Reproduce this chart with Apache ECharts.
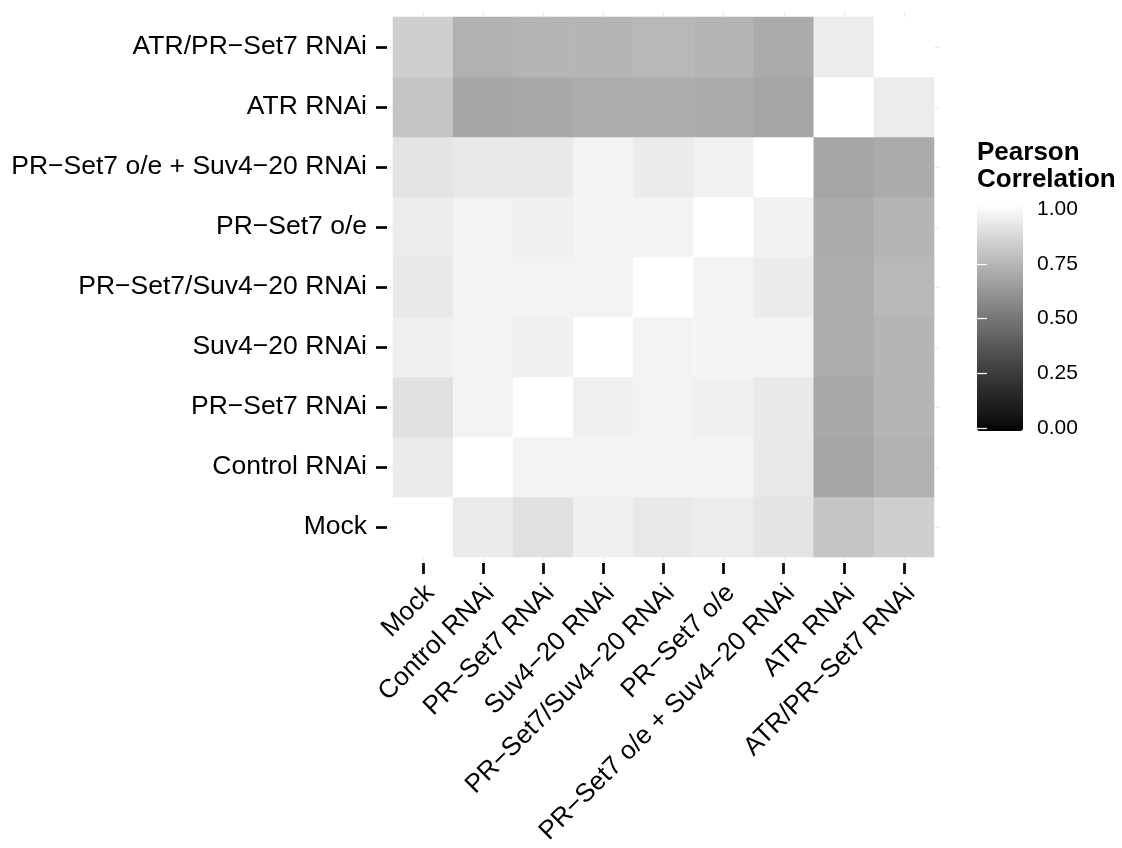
<!DOCTYPE html>
<html>
<head>
<meta charset="utf-8">
<title>Pearson correlation between samples</title>
<script src="https://cdn.jsdelivr.net/npm/echarts@6/dist/echarts.min.js"></script>
<style>
  html, body { margin: 0; padding: 0; background: #ffffff; }
  #chart { width: 1122px; height: 848px; }
</style>
</head>
<body>
<div id="chart"></div>
<script>
// Sample names, bottom-to-top on the y axis and left-to-right on the x axis
const samples = [
  'Mock',
  'Control RNAi',
  'PR\u2212Set7 RNAi',
  'Suv4\u221220 RNAi',
  'PR\u2212Set7/Suv4\u221220 RNAi',
  'PR\u2212Set7 o/e',
  'PR\u2212Set7 o/e + Suv4\u221220 RNAi',
  'ATR RNAi',
  'ATR/PR\u2212Set7 RNAi'
];

// Pearson correlation of each sample (row) against every sample (columns, same order)
const corrMock      = [1.000, 0.930, 0.890, 0.945, 0.920, 0.934, 0.905, 0.790, 0.833];
const corrControl   = [0.930, 1.000, 0.960, 0.960, 0.962, 0.960, 0.920, 0.681, 0.722];
const corrPRSet7    = [0.890, 0.960, 1.000, 0.948, 0.960, 0.948, 0.922, 0.692, 0.737];
const corrSuv420    = [0.945, 0.960, 0.948, 1.000, 0.958, 0.965, 0.958, 0.704, 0.737];
const corrPRSuv     = [0.920, 0.962, 0.960, 0.958, 1.000, 0.958, 0.930, 0.706, 0.748];
const corrOE        = [0.934, 0.960, 0.948, 0.965, 0.958, 1.000, 0.951, 0.698, 0.735];
const corrOESuv     = [0.905, 0.920, 0.922, 0.958, 0.930, 0.951, 1.000, 0.675, 0.700];
const corrATR       = [0.790, 0.681, 0.692, 0.704, 0.706, 0.698, 0.675, 1.000, 0.934];
const corrATRPR     = [0.833, 0.722, 0.737, 0.737, 0.748, 0.735, 0.700, 0.934, 1.000];

const corrRows = [corrMock, corrControl, corrPRSet7, corrSuv420, corrPRSuv,
                  corrOE, corrOESuv, corrATR, corrATRPR];

// Colour bar range and breaks
const scaleMin = 0;
const scaleMax = 1;
const scaleStep = 0.25;

const FONT = '"Liberation Sans", Arial, Helvetica, sans-serif';

// Black-to-white ramp interpolated in CIE Lab (lightness only)
function labGray(L) {
  const fy = (L + 16) / 116;
  const Y = L > 8 ? fy * fy * fy : L / 903.3;
  const s = Y > 0.0031308 ? 1.055 * Math.pow(Y, 1 / 2.4) - 0.055 : 12.92 * Y;
  const g = Math.round(Math.max(0, Math.min(1, s)) * 255);
  return 'rgb(' + g + ',' + g + ',' + g + ')';
}
const ramp = [];
for (let i = 0; i <= 50; i++) ramp.push(labGray(i * 2));

// Heatmap cells: [column index, row index, correlation]
const cells = [];
corrRows.forEach(function (row, yi) {
  row.forEach(function (v, xi) { cells.push([xi, yi, v]); });
});

const gridLine = { show: true, interval: 0, lineStyle: { color: '#ebebeb', width: 1.2 } };
const hiddenParts = {
  axisLine: { show: false }, axisTick: { show: false }, axisLabel: { show: false }
};

const chart = echarts.init(document.getElementById('chart'), null, { renderer: 'canvas' });

chart.setOption({
  animation: false,
  backgroundColor: '#ffffff',
  textStyle: { fontFamily: FONT },
  title: {
    text: 'Pearson\nCorrelation',
    left: 977,
    top: 139,
    padding: 0,
    textStyle: { fontFamily: FONT, fontSize: 26, fontWeight: 'bold', lineHeight: 27, color: '#000000' }
  },
  grid: [
    { left: 393, top: 17, width: 541, height: 540, outerBoundsMode: 'none', containLabel: false },   // tiles
    { left: 423, top: 11, width: 481, height: 552, outerBoundsMode: 'none', containLabel: false },   // vertical panel grid lines
    { left: 387, top: 47, width: 553, height: 480, outerBoundsMode: 'none', containLabel: false },   // horizontal panel grid lines
    { left: 977, top: 209, width: 46, height: 219, outerBoundsMode: 'none', containLabel: false }    // colour bar breaks
  ],
  xAxis: [
    {
      gridIndex: 0, type: 'category', data: samples, offset: 6,
      axisLine: { show: false },
      axisTick: { show: true, alignWithLabel: true, interval: 0, length: 11,
                  lineStyle: { color: '#000000', width: 2.7 } },
      axisLabel: { interval: 0, rotate: 45, align: 'right', verticalAlign: 'top',
                   lineHeight: 20, margin: 19, fontSize: 26, color: '#000000', fontFamily: FONT },
      splitLine: { show: false }
    },
    Object.assign({ gridIndex: 1, type: 'category', data: samples, boundaryGap: false,
                    splitLine: gridLine }, hiddenParts),
    { gridIndex: 2, type: 'value', show: false },
    { gridIndex: 3, type: 'value', show: false }
  ],
  yAxis: [
    {
      gridIndex: 0, type: 'category', data: samples, offset: 6,
      axisLine: { show: false },
      axisTick: { show: true, alignWithLabel: true, interval: 0, length: 11,
                  lineStyle: { color: '#000000', width: 2.7 } },
      axisLabel: { interval: 0, margin: 20, fontSize: 26.5, color: '#000000', fontFamily: FONT },
      splitLine: { show: false }
    },
    { gridIndex: 1, type: 'value', show: false },
    Object.assign({ gridIndex: 2, type: 'category', data: samples, boundaryGap: false,
                    splitLine: gridLine }, hiddenParts),
    {
      gridIndex: 3, type: 'value', position: 'right', z: 10,
      min: scaleMin, max: scaleMax, interval: scaleStep,
      axisLine: { show: false },
      axisTick: { show: true, inside: true, length: 9, lineStyle: { color: '#ffffff', width: 1.2 } },
      axisLabel: { margin: 14, fontSize: 21, color: '#000000', fontFamily: FONT,
                   formatter: function (v) { return v.toFixed(2); } },
      splitLine: { show: false }
    },
    {
      gridIndex: 3, type: 'value', position: 'left', z: 10,
      min: scaleMin, max: scaleMax, interval: scaleStep,
      axisLine: { show: false },
      axisTick: { show: true, inside: true, length: 10, lineStyle: { color: '#ffffff', width: 1.2 } },
      axisLabel: { show: false },
      splitLine: { show: false }
    }
  ],
  visualMap: {
    type: 'continuous',
    seriesIndex: 0,
    min: scaleMin,
    max: scaleMax,
    calculable: false,
    hoverLink: false,
    orient: 'vertical',
    left: 977,
    top: 205,
    padding: 0,
    itemWidth: 46,
    itemHeight: 226,
    inRange: { color: ramp }
  },
  series: [
    {
      type: 'heatmap',
      xAxisIndex: 0,
      yAxisIndex: 0,
      data: cells,
      itemStyle: { borderWidth: 0 },
      emphasis: { disabled: true }
    }
  ]
});
</script>
</body>
</html>
